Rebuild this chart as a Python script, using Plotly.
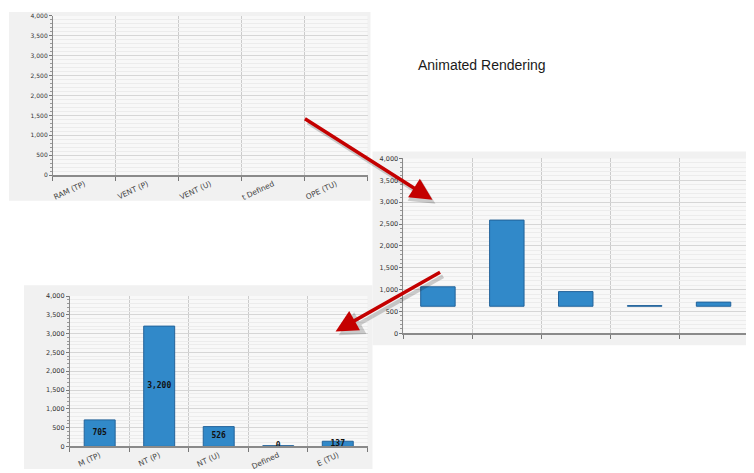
import plotly.graph_objects as go

# the page puts the plot 8px in from the top-left corner
OFF = 8
W, H = 754 - OFF, 473 - OFF

# data
cat_pos = [0, 1, 2, 3, 4]
top_labels = ["RAM (TP)", "VENT (P)", "VENT (U)", "t Defined", "OPE (TU)"]
mid_tops = [1065, 2590, 955, 635, 715]
mid_base = 620
bottom_labels = ["M (TP)", "NT (P)", "NT (U)", "Defined", "E (TU)"]
bottom_values = [705, 3200, 526, 20, 137]
bottom_text = ["705", "3,200", "526", "0", "137"]


def px(x):
    return max(0, (x - OFF) / W)


def py(y):
    return min(1, 1 - (y - OFF) / H)


bar_color = "#3189c9"
bar_line = "#23639a"

fig = go.Figure()

# top-left: empty chart (before animation)
fig.add_trace(go.Scatter(x=[], y=[], xaxis="x", yaxis="y", showlegend=False))

# middle-right: bars growing
fig.add_trace(go.Bar(
    x=cat_pos, y=[t - mid_base for t in mid_tops], base=mid_base,
    width=0.5, marker=dict(color=bar_color, line=dict(color=bar_line, width=1)),
    xaxis="x2", yaxis="y2", showlegend=False, hoverinfo="skip"))

# bottom-left: finished chart
fig.add_trace(go.Bar(
    x=cat_pos, y=bottom_values, width=0.52,
    marker=dict(color=bar_color, line=dict(color=bar_line, width=1)),
    xaxis="x3", yaxis="y3", showlegend=False, hoverinfo="skip"))
fig.add_trace(go.Scatter(
    x=cat_pos, y=[v / 2 for v in bottom_values], text=bottom_text,
    mode="text", textfont=dict(family="DejaVu Sans Mono", size=8, color="#111111", weight="bold"),
    xaxis="x3", yaxis="y3", showlegend=False, hoverinfo="skip"))


def yax(dom, anchor, fsize):
    return dict(
        domain=dom, anchor=anchor, range=[0, 4000], dtick=500, tickformat=",",
        showgrid=True, gridcolor="#d6d6d6", gridwidth=1, zeroline=False,
        showline=True, linecolor="#8a8a8a", linewidth=1,
        ticks="outside", ticklen=3, tickcolor="#777777",
        tickfont=dict(family="DejaVu Sans", size=fsize, color="#333333"),
        minor=dict(dtick=100, showgrid=True, gridcolor="#ececec",
                   ticks="outside", ticklen=2, tickcolor="#999999"),
        fixedrange=True)


def xax(dom, anchor, labels, fsize):
    return dict(
        domain=dom, anchor=anchor, range=[-0.5, 4.5],
        tickmode="array", tickvals=cat_pos, ticktext=labels, tickangle=-25,
        ticks="", showgrid=False, zeroline=False,
        showline=True, linecolor="#8a8a8a", linewidth=1.5,
        tickfont=dict(family="DejaVu Sans", size=fsize, color="#444444"),
        minor=dict(tick0=-0.5, dtick=1, showgrid=True, gridcolor="#cbcbcb",
                   ticks="outside", ticklen=4, tickcolor="#777777"),
        fixedrange=True)


shapes = []
panels = [
    # (panel box, plot box)
    ((0, 0, 370, 200), (52, 12, 367, 174)),
    ((372, 150, 754, 347), (403, 157, 748, 335)),
    ((23, 286, 372, 473), (69, 297, 367, 450)),
]
for (a, b, c, d), (e, f, g, h) in panels:
    shapes.append(dict(type="rect", xref="paper", yref="paper", layer="below",
                       x0=px(a), x1=px(c), y0=py(d), y1=py(b),
                       fillcolor="#f1f1f1", line=dict(width=0)))
    shapes.append(dict(type="rect", xref="paper", yref="paper", layer="below",
                       x0=px(e), x1=px(g), y0=py(h), y1=py(f),
                       fillcolor="#f8f8f8", line=dict(width=0)))

annotations = [
    dict(text="Animated Rendering", xref="paper", yref="paper",
         x=px(416), y=py(62), xanchor="left", yanchor="middle", showarrow=False,
         font=dict(family="Liberation Sans", size=14, color="#1a1a1a")),
]

arrows = [((432, 199), (303, 117)), ((335, 333), (441, 273))]
for (tx, ty), (sx, sy) in arrows:
    # soft shadow
    annotations.append(dict(text="", xref="paper", yref="paper",
                            x=px(tx + 3), y=py(ty + 4), ax=sx - tx, ay=sy - ty,
                            showarrow=True, arrowhead=2, arrowsize=1.25, arrowwidth=4,
                            arrowcolor="rgba(0,0,0,0.18)"))
    annotations.append(dict(text="", xref="paper", yref="paper",
                            x=px(tx), y=py(ty), ax=sx - tx, ay=sy - ty,
                            showarrow=True, arrowhead=2, arrowsize=1.25, arrowwidth=3.5,
                            arrowcolor="#c40000"))

fig.update_layout(
    width=W, height=H, margin=dict(l=0, r=0, t=0, b=0),
    paper_bgcolor="white", plot_bgcolor="rgba(0,0,0,0)",
    xaxis=xax([px(52), px(367)], "y", top_labels, 7.5),
    yaxis=yax([py(174), py(12)], "x", 6),
    xaxis2=xax([px(403), px(748)], "y2", [""] * 5, 7),
    yaxis2=yax([py(335), py(157)], "x2", 6.5),
    xaxis3=xax([px(69), px(367)], "y3", bottom_labels, 7.5),
    yaxis3=yax([py(450), py(297)], "x3", 6.5),
    shapes=shapes, annotations=annotations,
)

fig.write_html("out.html")
